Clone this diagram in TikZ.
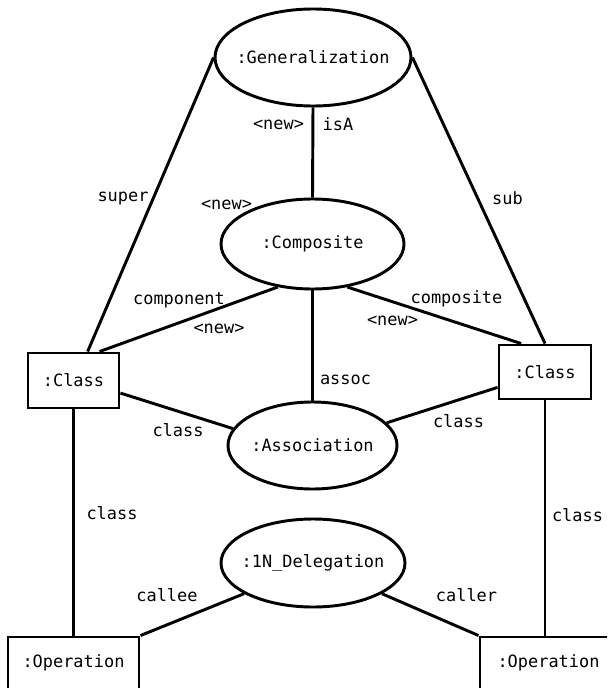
\documentclass[tikz,border=0pt]{standalone}
\usepackage{fontspec}
\setmainfont{DejaVu Sans Mono}
\usetikzlibrary{shapes.geometric}
% one drawing unit: 0.75pt
\newdimen\pxu \pxu=0.75pt
\begin{document}
\begin{tikzpicture}[x=0.75pt, y=-0.75pt, line width=2.2pt,
  every node/.style={font=\fontsize{12.7}{15}\selectfont, inner sep=0pt},
  % negative x-separation keeps the text from widening the ellipse
  obj/.style={draw, ellipse, inner xsep=-25\pxu},
  inst/.style={draw, rectangle},
  opbox/.style={inst, minimum height=64\pxu, text depth=16\pxu},
  lbl/.style={anchor=base}]
\clip (0,0) rectangle (607,688);

% object nodes
\node[obj, minimum width=196\pxu, minimum height=97\pxu] (gen) at (313,57.5) {:Generalization};
\node[obj, minimum width=183\pxu, minimum height=90\pxu] (comp) at (312.5,244) {:Composite};
\node[obj, minimum width=169\pxu, minimum height=87\pxu] (assoc) at (312.5,445.5) {:Association};
\node[obj, minimum width=184\pxu, minimum height=88\pxu] (deleg) at (313,563) {:1N\_Delegation};

\node[inst, minimum width=91\pxu, minimum height=55\pxu] (lclass) at (73.5,380.5) {:Class};
\node[inst, minimum width=92\pxu, minimum height=54\pxu] (rclass) at (545,372) {:Class};
\node[opbox, minimum width=131\pxu] (lop) at (73.5,669) {:Operation};
\node[opbox, minimum width=137\pxu] (rop) at (548.5,669) {:Operation};

% links
\draw (gen.west) -- (lclass.64);
\draw (gen.east) -- (rclass.north);
\draw (gen.south) -- (comp.north);
\draw (comp.231) -- (lclass.48);
\draw (comp.-51) -- (rclass.130);
\draw (comp.south) -- (assoc.north);
\draw (lclass.-15) -- (assoc.168);
\draw (rclass.198) -- (assoc.17);
\draw (lclass.south) -- (lop.north);
\draw (rclass.south) -- (rclass.south |- rop.north);
\draw (deleg.204) -- (lop.north east);
\draw (deleg.-24) -- (rop.north west);

% role names
\node[lbl] (l1) at (278.5,129.5) {<new>};
\node[lbl] (l2) at (338,130.5) {isA};
\node[lbl] (l3) at (123,201.5) {super};
\node[lbl] (l4) at (226.5,209) {<new>};
\node[lbl] (l5) at (507.5,204) {sub};
\node[lbl] (l6) at (179,304.5) {component};
\node[lbl] (l7) at (219,333.5) {<new>};
\node[lbl] (l8) at (456.5,303.5) {composite};
\node[lbl] (l9) at (392.5,325) {<new>};
\node[lbl] (l10) at (345.5,384) {assoc};
\node[lbl] (l11) at (178,436) {class};
\node[lbl] (l12) at (458.5,427) {class};
\node[lbl] (l13) at (112,519) {class};
\node[lbl] (l14) at (577.5,521.5) {class};
\node[lbl] (l15) at (167,601) {callee};
\node[lbl] (l16) at (466.5,601) {caller};
\end{tikzpicture}
\end{document}
